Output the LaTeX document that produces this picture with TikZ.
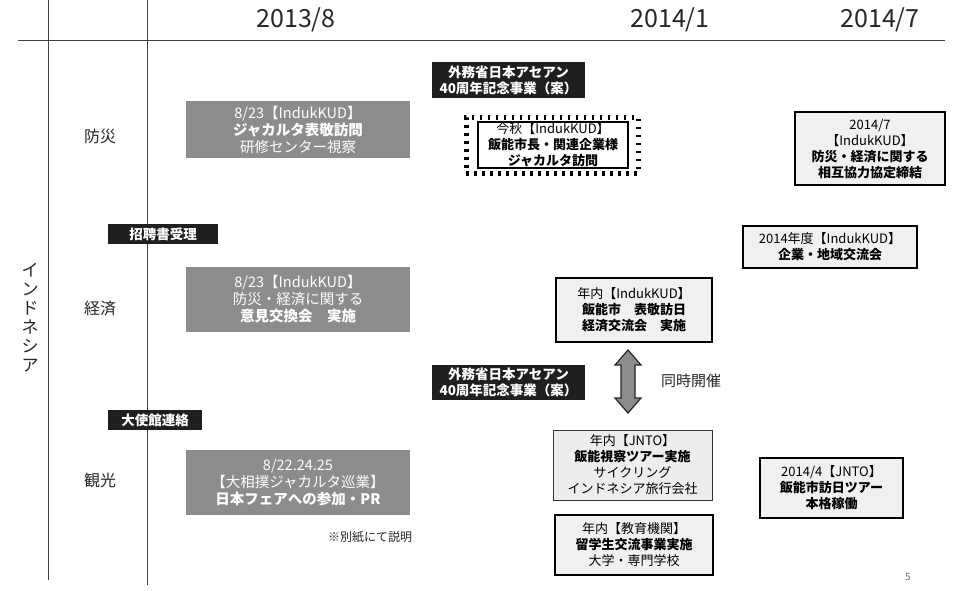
\documentclass[tikz,border=0pt]{standalone}
\usepackage{fontspec}
\setmainfont{Noto Sans CJK JP}
\begin{document}
\begin{tikzpicture}[x=1pt,y=-1pt,
  every node/.style={inner sep=0pt, align=center},
  graybox/.style={fill=black!45, text=white, minimum width=224pt, font=\fontsize{14.5}{17}\selectfont},
  blacklabel/.style={fill=black!88, text=white, font=\bfseries\fontsize{13.5}{16}\selectfont},
  thinbox/.style={draw=black!80, line width=0.9pt, fill=black!7, font=\fontsize{13}{16}\selectfont},
  thickbox/.style={draw=black, line width=2.2pt, fill=black!6, font=\fontsize{13}{16}\selectfont},
  datelabel/.style={font=\fontsize{25}{28}\selectfont, text=black!85},
  rowlabel/.style={font=\fontsize{16}{18}\selectfont, text=black!85},
  dblarrow/.style={draw=black!85, line width=1.2pt, fill=black!45, line join=miter}
]
\useasboundingbox (0,0) rectangle (955,590);

% axes
\draw[line width=0.7pt, black!75] (18,40) -- (945,40);
\draw[line width=0.7pt, black!75] (48,0) -- (48,580);
\draw[line width=0.7pt, black!75] (147,0) -- (147,585);

% dates
\node[datelabel] (d1) at (296,20) {2013/8};
\node[datelabel] (d2) at (670,20) {2014/1};
\node[datelabel] (d3) at (880,20) {2014/7};

% vertical country label
\node[font=\fontsize{17}{19}\selectfont, text=black!85] (indo) at (30,318) {イ\\ン\\ド\\ネ\\シ\\ア};

% row labels
\node[rowlabel] (r1) at (100,136) {防災};
\node[rowlabel] (r2) at (100,308) {経済};
\node[rowlabel] (r3) at (100,480) {観光};

% 防災 row
\node[graybox, minimum height=57pt] (g1) at (298,129.5) {8/23【IndukKUD】\\\textbf{ジャカルタ表敬訪問}\\研修センター視察};
\node[blacklabel, minimum width=153pt, minimum height=36pt] (b1) at (508.5,80) {外務省日本アセアン\\40周年記念事業（案）};
\node[draw=black, line width=5pt, dash pattern=on 2.5pt off 5.5pt, minimum width=172pt, minimum height=56pt] (stampout) at (552,145) {};
\node[draw=black, line width=2pt, fill=white, minimum width=150pt, minimum height=46pt, font=\fontsize{13}{16}\selectfont] (stamp) at (553,145) {今秋【IndukKUD】\\\textbf{飯能市長・関連企業様}\\\textbf{ジャカルタ訪問}};
\node[thickbox, minimum width=150pt, minimum height=73pt] (tr) at (870,148.5) {2014/7\\【IndukKUD】\\\textbf{防災・経済に関する}\\\textbf{相互協力協定締結}};

% 経済 row
\node[blacklabel, minimum width=110pt, minimum height=20pt] (inv) at (163,234) {招聘書受理};
\node[thickbox, minimum width=174pt, minimum height=42pt] (y2014) at (830,247) {2014年度【IndukKUD】\\\textbf{企業・地域交流会}};
\node[graybox, minimum height=65pt] (g2) at (298,299.5) {8/23【IndukKUD】\\防災・経済に関する\\\textbf{意見交換会　実施}};
\node[thickbox, minimum width=156pt, minimum height=64pt] (nen1) at (634,310) {年内【IndukKUD】\\\textbf{飯能市　表敬訪日}\\\textbf{経済交流会　実施}};
\node[blacklabel, minimum width=153pt, minimum height=35pt] (b2) at (508.5,382.5) {外務省日本アセアン\\40周年記念事業（案）};
\draw[dblarrow] (628,350) -- (641,365) -- (635,365) -- (635,398) -- (641,398) -- (628,413)
  -- (615,398) -- (621,398) -- (621,365) -- (615,365) -- cycle;
\node[font=\fontsize{15}{18}\selectfont, text=black!85] (sim) at (691,381) {同時開催};

% 観光 row
\node[blacklabel, minimum width=94pt, minimum height=20pt] (emb) at (155,420) {大使館連絡};
\node[graybox, minimum height=65pt] (g3) at (298,482.5) {8/22.24.25\\【大相撲ジャカルタ巡業】\\\textbf{日本フェアへの参加・PR}};
\node[font=\fontsize{12}{14}\selectfont, text=black!85] (note) at (370,537) {※別紙にて説明};
\node[thinbox, minimum width=159pt, minimum height=70pt] (jnto1) at (632.5,465) {年内【JNTO】\\\textbf{飯能視察ツアー実施}\\サイクリング\\インドネシア旅行会社};
\node[thickbox, minimum width=158pt, minimum height=60pt] (edu) at (634,545) {年内【教育機関】\\\textbf{留学生交流事業実施}\\大学・専門学校};
\node[thickbox, minimum width=143pt, minimum height=60pt] (jnto2) at (831.5,488) {2014/4【JNTO】\\\textbf{飯能市訪日ツアー}\\\textbf{本格稼働}};

\node[font=\fontsize{10}{12}\selectfont, text=black!55] (pg) at (908,577) {5};
\end{tikzpicture}
\end{document}
